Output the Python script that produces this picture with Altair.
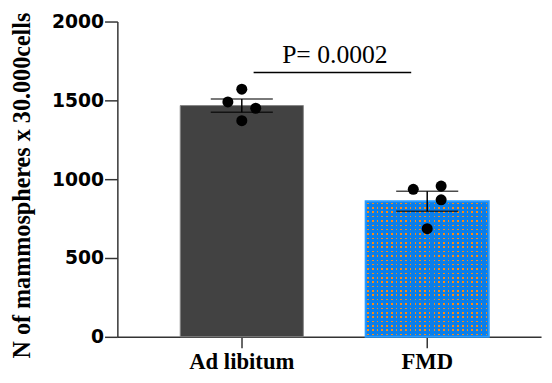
import altair as alt
import pandas as pd

# ---- data ----
groups = ["Ad libitum", "FMD"]
means = [1467, 860]
sems = [42, 63]

pt_group = ["Ad libitum"] * 4 + ["FMD"] * 4
pt_values = [1571, 1490, 1450, 1371, 936, 956, 869, 686]
pt_jitter = [0, -1, 1, 0, -1, 1, 1, 0]
jitter_slots = [-4, -3, -2, -1, 0, 1, 2, 3, 4]

y_ticks = [0, 500, 1000, 1500, 2000]
p_label = "P= 0.0002"
bracket_y = 1677
p_label_y = 1735

bars_df = pd.DataFrame({"group": groups, "mean": means, "sem": sems})
bars_df["lo"] = bars_df["mean"] - bars_df["sem"]
bars_df["hi"] = bars_df["mean"] + bars_df["sem"]
pts_df = pd.DataFrame({"group": pt_group, "value": pt_values, "jit": pt_jitter})
ann_df = pd.DataFrame({"group": [groups[0]], "group2": [groups[1]],
                       "y": [bracket_y], "ty": [p_label_y], "label": [p_label]})

# ---- styles ----
BLUE = "#0a7eea"
BLUE_EDGE = "#2a9cff"
ORANGE = "#ff8a10"
CLEAR = "rgba(255,255,255,0)"


def stripe_gradient(n, on, off, frac, vertical):
    stops = [alt.GradientStop(color=off, offset=0)]
    for i in range(n):
        s = (i + (1 - frac) / 2) / n
        e = (i + (1 + frac) / 2) / n
        stops += [alt.GradientStop(color=off, offset=s),
                  alt.GradientStop(color=on, offset=s),
                  alt.GradientStop(color=on, offset=e),
                  alt.GradientStop(color=off, offset=e)]
    stops.append(alt.GradientStop(color=off, offset=1))
    if vertical:
        return alt.LinearGradient(gradient="linear", stops=stops, x1=0, y1=0, x2=0, y2=1)
    return alt.LinearGradient(gradient="linear", stops=stops, x1=0, y1=0, x2=1, y2=0)


x_enc = alt.X(
    "group:N",
    sort=groups,
    scale=alt.Scale(domain=groups, paddingInner=0.336, paddingOuter=0.3105, align=0.546),
    axis=alt.Axis(
        title=None, labelAngle=0, labelFont="Liberation Serif", labelFontWeight="bold",
        labelFontSize=23, labelColor="black", labelPadding=3,
        tickSize=11, tickColor="#333333", tickWidth=1.5,
        domainColor="#333333", domainWidth=1.5,
    ),
)
y_scale = alt.Scale(domain=[0, 2000], nice=False)
y_axis = alt.Axis(
    values=y_ticks, grid=False, format="d",
    title="N of mammospheres x 30.000cells", titleFont="Liberation Serif",
    titleFontSize=24.5, titleFontWeight="bold", titleColor="black",
    titleAngle=270, titleX=-89, titleY=166, titleAlign="center", titleBaseline="alphabetic",
    labelFont="DejaVu Sans", labelFontWeight="bold", labelFontSize=19, labelColor="black",
    labelPadding=1, tickSize=13, tickColor="#333333", tickWidth=1.5,
    domainColor="#333333", domainWidth=1.5,
)

base = alt.Chart(bars_df)

bar_dark = base.transform_filter(alt.datum.group == groups[0]).mark_bar(
    fill="#424242", stroke="#858585", strokeWidth=1
).encode(x=x_enc, y=alt.Y("mean:Q", scale=y_scale, axis=y_axis))

fmd = base.transform_filter(alt.datum.group == groups[1])
bar_blue = fmd.mark_bar(fill=BLUE).encode(x="group:N", y="mean:Q")
dots_cols = fmd.mark_bar(fill=stripe_gradient(26, ORANGE, CLEAR, 0.34, False)).encode(
    x="group:N", y="mean:Q")
dots_rows = fmd.mark_bar(fill=stripe_gradient(31, CLEAR, BLUE, 0.36, True)).encode(
    x="group:N", y="mean:Q")
bar_edge = fmd.mark_bar(fill=CLEAR, stroke=BLUE_EDGE, strokeWidth=2).encode(
    x="group:N", y="mean:Q")

err_line = base.mark_rule(color="black", strokeWidth=1.5).encode(
    x="group:N", y="lo:Q", y2="hi:Q")
err_hi = base.mark_tick(color="black", size=63, thickness=1.5).encode(x="group:N", y="hi:Q")
err_lo = base.mark_tick(color="black", size=63, thickness=1.5).encode(x="group:N", y="lo:Q")

points = alt.Chart(pts_df).mark_circle(color="black", size=125, opacity=1).encode(
    x="group:N",
    xOffset=alt.XOffset("jit:O", scale=alt.Scale(domain=jitter_slots, paddingInner=0,
                                                 paddingOuter=0.42)),
    y="value:Q",
)

bracket = alt.Chart(ann_df).mark_rule(color="black", strokeWidth=1.5).encode(
    x=alt.X("group:N", bandPosition=0.596),
    x2=alt.X2("group2", bandPosition=0.37),
    y="y:Q",
)
p_text = alt.Chart(ann_df).mark_text(
    font="Liberation Serif", fontSize=26, color="black", align="center",
    baseline="alphabetic", dx=32,
).encode(x=alt.X("group:N", bandPosition=1), y="ty:Q", text="label:N")

chart = alt.layer(
    bar_dark, bar_blue, dots_cols, dots_rows, bar_edge,
    err_line, err_hi, err_lo, points, bracket, p_text,
).resolve_scale(xOffset="independent").properties(
    width=430, height=320,
    autosize=alt.AutoSizeParams(type="none"),
    padding={"left": 111, "top": 11, "right": 3, "bottom": 36},
    background="white",
).configure_view(stroke=None)

chart.save("out.html", embed_options={"renderer": "svg", "actions": False})
